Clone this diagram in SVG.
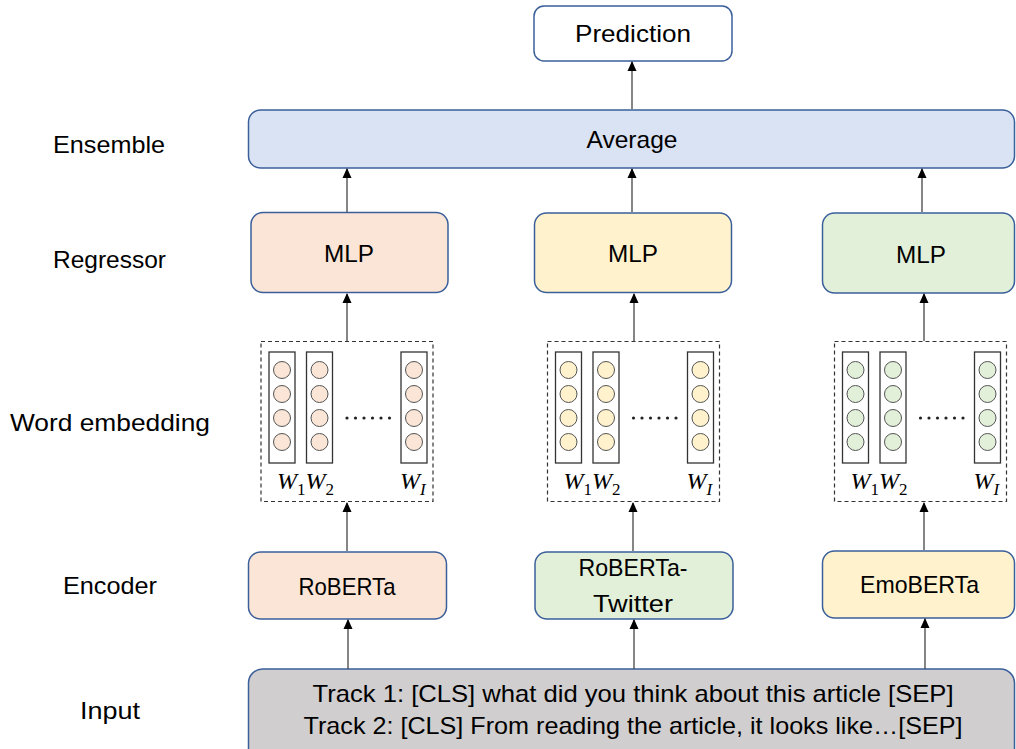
<svg xmlns="http://www.w3.org/2000/svg" xmlns:xlink="http://www.w3.org/1999/xlink" width="1016" height="749" viewBox="0 0 1016 749">
<style>
.box{stroke:#3A5F9A;stroke-width:1.5}
.t{font-family:"Liberation Sans",Arial,sans-serif;font-size:24px;fill:#000;text-anchor:middle}
.lab{font-family:"Liberation Sans",Arial,sans-serif;font-size:24px;fill:#000}
.w{font-family:"Liberation Serif","DejaVu Serif",serif;font-style:italic;font-size:24px;fill:#000}
.sub{font-size:17px;font-style:normal}
.subi{font-size:17px;font-style:italic}
.dash{fill:#fff;stroke:#333;stroke-width:1.2;stroke-dasharray:4 3}
.col{fill:#fff;stroke:#333;stroke-width:1.3}
.c{stroke:#555;stroke-width:1}
.dot{fill:#222}
.peach{fill:#FBE5D6}
.yel{fill:#FFF2CC}
.grn{fill:#E2F0D9}
.conn line{stroke:#444;stroke-width:1.3;marker-end:url(#ah)}
</style>
<defs>
<marker id="ah" markerWidth="10" markerHeight="10" refX="9" refY="5" orient="auto" markerUnits="userSpaceOnUse">
<path d="M0,0.5 L10,5 L0,9.5 z" fill="#000"/>
</marker>
<g id="embshape">
<rect class="dash" x="261" y="341.5" width="172" height="160"/>
<rect class="col" x="269" y="352" width="26" height="111"/>
<rect class="col" x="306.5" y="352" width="26" height="111"/>
<rect class="col" x="401" y="352" width="26" height="111"/>
<g class="c">
<circle cx="282" cy="370" r="8.5"/><circle cx="282" cy="394" r="8.5"/><circle cx="282" cy="418" r="8.5"/><circle cx="282" cy="442" r="8.5"/>
<circle cx="319.5" cy="370" r="8.5"/><circle cx="319.5" cy="394" r="8.5"/><circle cx="319.5" cy="418" r="8.5"/><circle cx="319.5" cy="442" r="8.5"/>
<circle cx="414" cy="370" r="8.5"/><circle cx="414" cy="394" r="8.5"/><circle cx="414" cy="418" r="8.5"/><circle cx="414" cy="442" r="8.5"/>
</g>
<g class="dot">
<circle cx="347" cy="418" r="1.6"/><circle cx="355.5" cy="418" r="1.6"/><circle cx="364" cy="418" r="1.6"/><circle cx="372.5" cy="418" r="1.6"/><circle cx="381" cy="418" r="1.6"/><circle cx="389.5" cy="418" r="1.6"/>
</g>
</g>
</defs>

<g id="labels">
<text class="lab" x="53" y="153" textLength="112" lengthAdjust="spacingAndGlyphs">Ensemble</text>
<text class="lab" x="53" y="268" textLength="113" lengthAdjust="spacingAndGlyphs">Regressor</text>
<text class="lab" x="10" y="431" textLength="200" lengthAdjust="spacingAndGlyphs">Word embedding</text>
<text class="lab" x="63" y="594" textLength="94" lengthAdjust="spacingAndGlyphs">Encoder</text>
<text class="lab" x="80" y="719" textLength="60" lengthAdjust="spacingAndGlyphs">Input</text>
</g>

<g id="prediction">
<rect class="box" x="534" y="6" width="198" height="55" rx="10" fill="#fff"/>
<text class="t" x="633" y="42" textLength="116" lengthAdjust="spacingAndGlyphs">Prediction</text>
</g>

<g id="average">
<rect class="box" x="248.5" y="110" width="766" height="58" rx="12" fill="#DAE3F3"/>
<text class="t" x="632" y="148" textLength="91" lengthAdjust="spacingAndGlyphs">Average</text>
</g>

<g id="mlp1">
<rect class="box peach" x="251" y="212.5" width="197" height="80" rx="12"/>
<text class="t" x="349" y="262" textLength="50" lengthAdjust="spacingAndGlyphs">MLP</text>
</g>
<g id="mlp2">
<rect class="box yel" x="534.5" y="213" width="197" height="79.5" rx="12"/>
<text class="t" x="633" y="262" textLength="50" lengthAdjust="spacingAndGlyphs">MLP</text>
</g>
<g id="mlp3">
<rect class="box grn" x="822.5" y="213" width="192" height="80" rx="12"/>
<text class="t" x="921" y="263" textLength="50" lengthAdjust="spacingAndGlyphs">MLP</text>
</g>

<g id="emb1">
<use xlink:href="#embshape" href="#embshape" fill="#FBE5D6"/>
<text class="w" x="277" y="489">W<tspan class="sub" dy="6">1</tspan><tspan dy="-6">W</tspan><tspan class="sub" dy="6">2</tspan></text>
<text class="w" x="400" y="489">W<tspan class="subi" dy="6">I</tspan></text>
</g>
<g id="emb2" transform="translate(286.5,0)">
<use xlink:href="#embshape" href="#embshape" fill="#FFF2CC"/>
<text class="w" x="277" y="489">W<tspan class="sub" dy="6">1</tspan><tspan dy="-6">W</tspan><tspan class="sub" dy="6">2</tspan></text>
<text class="w" x="400" y="489">W<tspan class="subi" dy="6">I</tspan></text>
</g>
<g id="emb3" transform="translate(573.5,0)">
<use xlink:href="#embshape" href="#embshape" fill="#E2F0D9"/>
<text class="w" x="277" y="489">W<tspan class="sub" dy="6">1</tspan><tspan dy="-6">W</tspan><tspan class="sub" dy="6">2</tspan></text>
<text class="w" x="400" y="489">W<tspan class="subi" dy="6">I</tspan></text>
</g>

<g id="enc1">
<rect class="box peach" x="248.5" y="552" width="198" height="67" rx="12"/>
<text class="t" x="347" y="595" textLength="97" lengthAdjust="spacingAndGlyphs">RoBERTa</text>
</g>
<g id="enc2">
<rect class="box grn" x="535" y="552" width="198" height="67" rx="12"/>
<text class="t" x="633" y="576" textLength="109" lengthAdjust="spacingAndGlyphs">RoBERTa-</text>
<text class="t" x="633" y="612" textLength="80" lengthAdjust="spacingAndGlyphs">Twitter</text>
</g>
<g id="enc3">
<rect class="box yel" x="822.5" y="551" width="192" height="67" rx="12"/>
<text class="t" x="919.5" y="593" textLength="119" lengthAdjust="spacingAndGlyphs">EmoBERTa</text>
</g>

<g id="input">
<rect class="box" x="248.5" y="669" width="766" height="100" rx="14" fill="#D0CECE"/>
<text class="t" x="633" y="702" textLength="641" lengthAdjust="spacingAndGlyphs">Track 1: [CLS] what did you think about this article [SEP]</text>
<text class="t" x="633" y="734" textLength="659" lengthAdjust="spacingAndGlyphs">Track 2: [CLS] From reading the article, it looks like…[SEP]</text>
</g>

<g id="connectors" class="conn">
<line x1="632" y1="109" x2="632" y2="62"/>
<line x1="347" y1="212" x2="347" y2="169"/>
<line x1="632" y1="212" x2="632" y2="169"/>
<line x1="922" y1="212" x2="922" y2="169"/>
<line x1="347" y1="341" x2="347" y2="294"/>
<line x1="634" y1="341" x2="634" y2="294"/>
<line x1="924" y1="341" x2="924" y2="294"/>
<line x1="347" y1="551" x2="347" y2="503"/>
<line x1="633" y1="551" x2="633" y2="503"/>
<line x1="924" y1="550" x2="924" y2="503"/>
<line x1="348" y1="669" x2="348" y2="620"/>
<line x1="634" y1="669" x2="634" y2="620"/>
<line x1="925" y1="669" x2="925" y2="619"/>
</g>
</svg>
